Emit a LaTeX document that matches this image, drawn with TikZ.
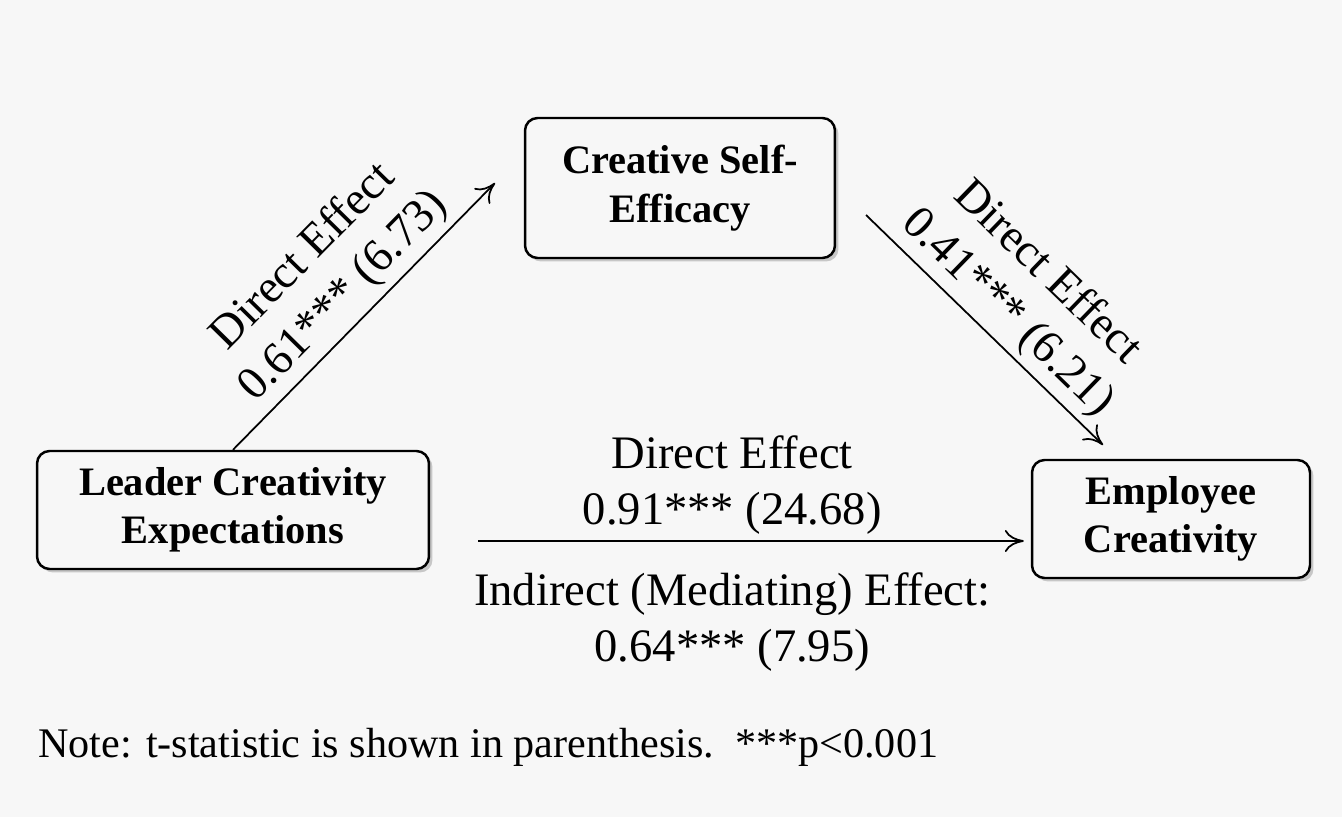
\documentclass[tikz,border=0pt]{standalone}
\usepackage{fontspec}
\setmainfont{Liberation Serif}
\usetikzlibrary{arrows.meta,shadows}
\definecolor{paper}{RGB}{247,247,247}

\begin{document}
\begin{tikzpicture}[
        x=0.02cm, y=-0.02cm,
        box/.style={draw, line width=1.4pt, rounded corners=0.25cm, fill=paper, align=center,
            font=\fontsize{23}{27.5}\selectfont\bfseries, inner sep=0pt,
            drop shadow={shadow xshift=0.07cm, shadow yshift=-0.07cm, opacity=0.4}},
        arr/.style={-{To[length=0.38cm,width=0.44cm]}, line width=1pt},
        lbl/.style={font=\fontsize{26.5}{32}\selectfont, align=center},
    ]
        \fill[paper] (0,0) rectangle (1342,817);
        \useasboundingbox (0,0) rectangle (1342,817);

        \node[box, minimum width=7.84cm, minimum height=2.36cm] (lead) at (233,510) {Leader Creativity\\Expectations};
        \node[box, minimum width=6.2cm, minimum height=2.8cm] (cse) at (680,188) {Creative Self-\\Efficacy};
        \node[box, minimum width=5.56cm, minimum height=2.36cm] (emp) at (1171,519) {Employee\\Creativity};

        \coordinate (cseIn) at (495,183);
        \coordinate (cseOut) at (866,215);
        \coordinate (empIn) at (1103,445);
        \coordinate (leadOut) at (478,541);

        \draw[arr] (lead.north) -- (cseIn) node[lbl, midway, sloped, above] {Direct Effect\\0.61*** (6.73)};
        \draw[arr] (cseOut) -- (empIn) node[lbl, midway, sloped, above, xshift=0.1cm] {Direct Effect\\0.41*** (6.21)};
        \draw[arr, shorten >=0.14cm] (leadOut) -- (leadOut -| emp.west)
            node[lbl, pos=0.46, above] {Direct Effect\\0.91*** (24.68)}
            node[lbl, pos=0.46, below, yshift=-0.5cm] {Indirect (Mediating) Effect:\\0.64*** (7.95)};

        \node[font=\fontsize{24}{28}\selectfont, anchor=base west, inner sep=0pt] (note) at (38,757) {Note: t-statistic is shown in parenthesis.\ \ ***p<0.001};
    \end{tikzpicture}
\end{document}
